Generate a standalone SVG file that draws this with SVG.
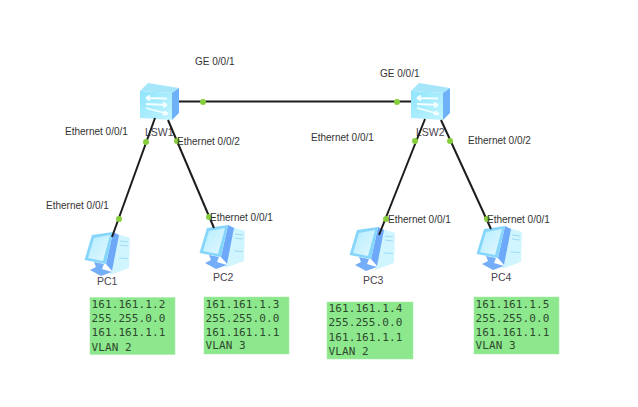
<svg xmlns="http://www.w3.org/2000/svg" width="638" height="407" viewBox="0 0 638 407">
  <style>
    text { font-family: "Liberation Sans", Arial, sans-serif; fill: #333; }
    .port { font-size: 10px; }
    .name { font-size: 10.5px; fill: #4a4450; }
    .cfg { font-family: "DejaVu Sans Mono", "Liberation Mono", monospace; font-size: 11px; fill: #2e4a2e; letter-spacing: 0.1px; }
    .link { stroke: #1c1c1c; stroke-width: 2; fill: none; }
    .dot { fill: #86cf3c; }
    .note { fill: #8de88d; stroke: #a5eba5; stroke-width: 0.5; }
  </style>
  <defs>
    <linearGradient id="screen" x1="0" y1="0" x2="1" y2="1">
      <stop offset="0" stop-color="#b5ecfe"/>
      <stop offset="1" stop-color="#e2f9ff"/>
    </linearGradient>
    <linearGradient id="face" x1="0" y1="0" x2="1" y2="1">
      <stop offset="0" stop-color="#8fe4fd"/>
      <stop offset="1" stop-color="#c2f5ff"/>
    </linearGradient>
    <g id="switch-icon">
      <polygon points="140,91 148,83 179,88 172,93" fill="#a5e6fb"/>
      <polygon points="140,91 172,93 172,120 140,118" fill="url(#face)"/>
      <polygon points="172,93 179,88 179,113 172,120" fill="#6eb1f7"/>
      <g fill="none" stroke="#f4feff" stroke-width="1.8">
        <path d="M146,98 L167,98.500 M146,98 l4,-2.500 M146,98 l4,2.500"/>
        <path d="M167,105 L146,104 M167,105 l-4,-2.500 M167,105 l-4,2.500"/>
        <path d="M146,108 L168,114 M168,114 l-4,-3 M168,114 l-5,0.500"/>
      </g>
    </g>
    <g id="pc-icon">
      <polygon points="117,234 130,238 129,268 110,275 112,270" fill="#d0f5fe"/>
      <path d="M120,241 l8,1 M120,245 l8,1 M119,258 l9,0.500" stroke="#9edcf5" stroke-width="1"/>
      <polygon points="94,262 104,264 102,269 112,272 101,276 90,270 96,267" fill="#74aef8"/>
      <polygon points="113,232 119,235 112,271 106,264" fill="#6ea8f8"/>
      <polygon points="84.500,260 92,235 113,232 106,264" fill="#86d6fc"/>
      <polygon points="88,258 94,238 110,235 103,261" fill="url(#screen)"/>
    </g>
  </defs>

  <g id="LSW1">
    <use href="#switch-icon"/>
    <text class="name" x="145" y="136">LSW1</text>
  </g>
  <g id="LSW2">
    <use href="#switch-icon" x="271"/>
    <text class="name" x="416" y="136">LSW2</text>
  </g>

  <g id="PC1">
    <use href="#pc-icon"/>
    <text class="name" x="97" y="285">PC1</text>
  </g>
  <g id="PC2">
    <use href="#pc-icon" x="115" y="-7"/>
    <text class="name" x="213" y="281">PC2</text>
  </g>
  <g id="PC3">
    <use href="#pc-icon" x="265" y="-5"/>
    <text class="name" x="363" y="284">PC3</text>
  </g>
  <g id="PC4">
    <use href="#pc-icon" x="392" y="-6"/>
    <text class="name" x="491" y="281">PC4</text>
  </g>

  <g id="connectors">
    <line class="link" x1="179" y1="101.500" x2="411" y2="101.500"/>
    <line class="link" x1="155" y1="118" x2="112" y2="237"/>
    <line class="link" x1="168" y1="120" x2="214" y2="228"/>
    <line class="link" x1="425" y1="119" x2="379" y2="235"/>
    <line class="link" x1="441" y1="120" x2="491" y2="229"/>
    <circle class="dot" cx="203" cy="102" r="3"/>
    <circle class="dot" cx="397" cy="102" r="3"/>
    <circle class="dot" cx="146" cy="142" r="3"/>
    <circle class="dot" cx="177" cy="141" r="3"/>
    <circle class="dot" cx="119" cy="219" r="3"/>
    <circle class="dot" cx="209" cy="217" r="3"/>
    <circle class="dot" cx="415" cy="141" r="3"/>
    <circle class="dot" cx="450" cy="141" r="3"/>
    <circle class="dot" cx="386" cy="219" r="3"/>
    <circle class="dot" cx="487" cy="219" r="3"/>
  </g>

  <g id="port-labels">
    <text class="port" x="195" y="65">GE 0/0/1</text>
    <text class="port" x="380" y="77">GE 0/0/1</text>
    <text class="port" x="65" y="135">Ethernet 0/0/1</text>
    <text class="port" x="177" y="145">Ethernet 0/0/2</text>
    <text class="port" x="311" y="141">Ethernet 0/0/1</text>
    <text class="port" x="468" y="144">Ethernet 0/0/2</text>
    <text class="port" x="46" y="209">Ethernet 0/0/1</text>
    <text class="port" x="210" y="221">Ethernet 0/0/1</text>
    <text class="port" x="388" y="223">Ethernet 0/0/1</text>
    <text class="port" x="487" y="223">Ethernet 0/0/1</text>
  </g>

  <g id="note-pc1">
    <rect class="note" x="90" y="297.500" width="85" height="57"/>
    <text class="cfg" x="91.500" y="308">161.161.1.2</text>
    <text class="cfg" x="91.500" y="322">255.255.0.0</text>
    <text class="cfg" x="91.500" y="336">161.161.1.1</text>
    <text class="cfg" x="91.500" y="351">VLAN 2</text>
  </g>
  <g id="note-pc2">
    <rect class="note" x="204" y="297" width="85" height="57"/>
    <text class="cfg" x="205.500" y="308">161.161.1.3</text>
    <text class="cfg" x="205.500" y="322">255.255.0.0</text>
    <text class="cfg" x="205.500" y="336">161.161.1.1</text>
    <text class="cfg" x="205.500" y="349">VLAN 3</text>
  </g>
  <g id="note-pc3">
    <rect class="note" x="327" y="302" width="86" height="57"/>
    <text class="cfg" x="328.500" y="312">161.161.1.4</text>
    <text class="cfg" x="328.500" y="326">255.255.0.0</text>
    <text class="cfg" x="328.500" y="341">161.161.1.1</text>
    <text class="cfg" x="328.500" y="355">VLAN 2</text>
  </g>
  <g id="note-pc4">
    <rect class="note" x="474" y="297" width="85" height="57"/>
    <text class="cfg" x="475.500" y="308">161.161.1.5</text>
    <text class="cfg" x="475.500" y="322">255.255.0.0</text>
    <text class="cfg" x="475.500" y="336">161.161.1.1</text>
    <text class="cfg" x="475.500" y="349">VLAN 3</text>
  </g>
</svg>
